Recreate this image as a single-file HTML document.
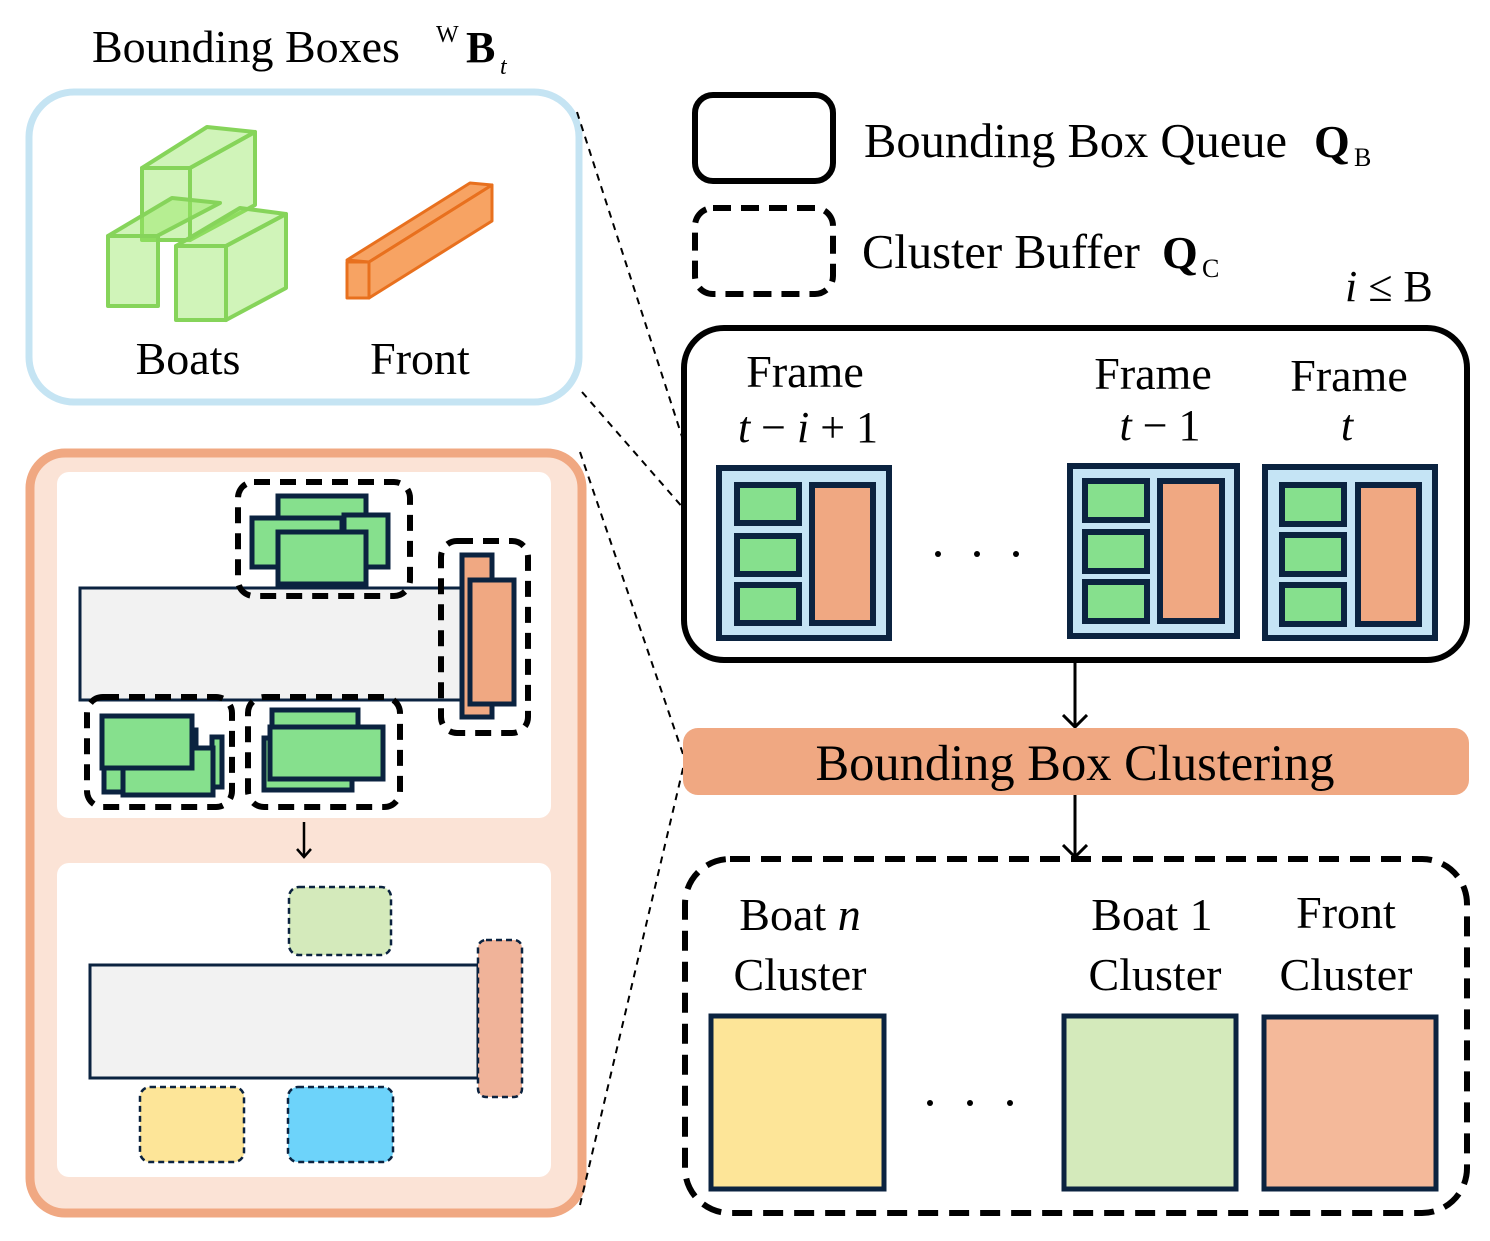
<!DOCTYPE html>
<html><head><meta charset="utf-8"><style>body{margin:0;background:#fff}svg{display:block}text{font-family:"Liberation Serif",serif;fill:#000}</style></head>
<body>
<svg width="1490" height="1241" viewBox="0 0 1490 1241" xmlns="http://www.w3.org/2000/svg">
<defs>
<marker id="ah" markerWidth="16" markerHeight="16" refX="8" refY="8" orient="auto" markerUnits="userSpaceOnUse"><path d="M1,1 L9,8 L1,15" fill="none" stroke="#000" stroke-width="2.5"/></marker>
<marker id="ah2" markerWidth="26" markerHeight="26" refX="12" refY="13" orient="auto" markerUnits="userSpaceOnUse"><path d="M1,1 L13,13 L1,25" fill="none" stroke="#000" stroke-width="3"/></marker>
</defs>

<text x="92" y="62" font-size="46">Bounding Boxes</text>
<text x="436" y="42" font-size="24">W</text>
<text x="466" y="62" font-size="44" font-weight="bold">B</text>
<text x="500" y="74" font-size="24" font-style="italic">t</text>

<rect x="29" y="92" width="550" height="310" rx="45" fill="#fff" stroke="#C5E4F3" stroke-width="7"/>
<g stroke="#86D45A" stroke-width="4" fill="rgba(150,230,100,0.45)" stroke-linejoin="round">
 <polygon points="142,168 207,127 255,132 190,168"/>
 <polygon points="190,168 255,132 255,205 190,240"/>
 <rect x="142" y="168" width="48" height="72"/>
 <polygon points="108,236 172,198 220,203 157,236"/>
 <rect x="108" y="236" width="50" height="70"/>
 <polygon points="176,246 240,208 286,214 226,246"/>
 <polygon points="226,246 286,214 286,288 226,320"/>
 <rect x="176" y="246" width="50" height="74"/>
</g>
<g stroke="#E8701E" stroke-width="3" fill="rgba(245,140,60,0.8)" stroke-linejoin="round">
 <polygon points="347,260 470,183 492,185 369,262"/>
 <polygon points="369,262 492,185 492,221 369,298"/>
 <rect x="347" y="262" width="22" height="36"/>
</g>
<text x="188" y="374" font-size="46" text-anchor="middle">Boats</text>
<text x="420" y="374" font-size="46" text-anchor="middle">Front</text>

<rect x="30" y="453" width="552" height="760" rx="35" fill="#FBE3D6" stroke="#F0A882" stroke-width="9"/>
<rect x="57" y="472" width="494" height="346" rx="12" fill="#fff"/>
<rect x="57" y="863" width="494" height="314" rx="12" fill="#fff"/>

<rect x="80" y="588" width="382" height="112" fill="#F2F2F2" stroke="#0B2340" stroke-width="3"/>
<g stroke="#0B2340" stroke-width="5" fill="#86E08D">
 <rect x="278" y="496" width="88" height="44"/>
 <rect x="344" y="515" width="44" height="52"/>
 <rect x="252" y="518" width="90" height="49"/>
 <rect x="278" y="532" width="88" height="52"/>
 <rect x="212" y="737" width="10" height="50"/>
 <rect x="170" y="730" width="26" height="45"/>
 <rect x="104" y="740" width="28" height="52"/>
 <rect x="123" y="748" width="90" height="47"/>
 <rect x="102" y="716" width="90" height="52"/>
 <rect x="264" y="738" width="88" height="52"/>
 <rect x="272" y="710" width="86" height="20"/>
 <rect x="270" y="727" width="113" height="52"/>
</g>
<g stroke="#0B2340" stroke-width="5" fill="#F0A882">
 <rect x="462" y="555" width="30" height="162"/>
 <rect x="470" y="580" width="44" height="124"/>
</g>
<g fill="none" stroke="#000" stroke-width="6" stroke-dasharray="16,10">
 <rect x="238" y="482" width="172" height="114" rx="16"/>
 <rect x="441" y="541" width="87" height="192" rx="16"/>
 <rect x="87" y="697" width="145" height="110" rx="16"/>
 <rect x="248" y="697" width="152" height="110" rx="16"/>
</g>
<line x1="304" y1="822" x2="304" y2="856" stroke="#000" stroke-width="2.5" marker-end="url(#ah)"/>

<rect x="90" y="965" width="388" height="113" fill="#F2F2F2" stroke="#0B2340" stroke-width="3"/>
<g stroke="#0B2340" stroke-width="2.5" stroke-dasharray="6,4">
 <rect x="289" y="887" width="102" height="68" rx="10" fill="#D4EABB"/>
 <rect x="478" y="940" width="44" height="157" rx="8" fill="#F0B399"/>
 <rect x="140" y="1087" width="104" height="75" rx="10" fill="#FDE598"/>
 <rect x="288" y="1087" width="105" height="75" rx="10" fill="#6DD3FA"/>
</g>

<g stroke="#000" stroke-width="2" stroke-dasharray="7,6" fill="none">
 <line x1="577" y1="112" x2="718" y2="548"/>
 <line x1="582" y1="392" x2="718" y2="548"/>
 <line x1="580" y1="452" x2="685" y2="760"/>
 <line x1="580" y1="1205" x2="685" y2="760"/>
</g>

<rect x="695" y="95" width="138" height="86" rx="18" fill="#fff" stroke="#000" stroke-width="6"/>
<rect x="695" y="208" width="138" height="86" rx="18" fill="#fff" stroke="#000" stroke-width="6" stroke-dasharray="18,10"/>
<text x="864" y="157" font-size="48.5">Bounding Box Queue</text>
<text x="1314" y="157" font-size="46" font-weight="bold">Q</text>
<text x="1354" y="166" font-size="26">B</text>
<text x="862" y="268" font-size="48.5">Cluster Buffer</text>
<text x="1162" y="268" font-size="46" font-weight="bold">Q</text>
<text x="1202" y="277" font-size="26">C</text>
<text x="1345" y="301" font-size="44"><tspan font-style="italic">i</tspan> ≤ B</text>

<rect x="684" y="328" width="783" height="332" rx="40" fill="#fff" stroke="#000" stroke-width="6"/>
<text x="805" y="387" font-size="46" text-anchor="middle">Frame</text>
<text x="808" y="442" font-size="44" text-anchor="middle"><tspan font-style="italic">t</tspan> − <tspan font-style="italic">i</tspan> + 1</text>
<text x="1153" y="389" font-size="46" text-anchor="middle">Frame</text>
<text x="1160" y="440" font-size="44" text-anchor="middle"><tspan font-style="italic">t</tspan> − 1</text>
<text x="1349" y="391" font-size="46" text-anchor="middle">Frame</text>
<text x="1347" y="440" font-size="44" text-anchor="middle" font-style="italic">t</text>
<g stroke="#0B2340" stroke-width="6">
 <rect x="719" y="468" width="170" height="170" fill="#C5E4F5"/>
 <rect x="737" y="485" width="62" height="38" fill="#86E08D"/>
 <rect x="737" y="536" width="62" height="38" fill="#86E08D"/>
 <rect x="737" y="585" width="62" height="38" fill="#86E08D"/>
 <rect x="812" y="485" width="61" height="138" fill="#F0A882"/>
 <rect x="1070" y="466" width="167" height="170" fill="#C5E4F5"/>
 <rect x="1085" y="481" width="62" height="39" fill="#86E08D"/>
 <rect x="1085" y="532" width="62" height="39" fill="#86E08D"/>
 <rect x="1085" y="582" width="62" height="39" fill="#86E08D"/>
 <rect x="1160" y="481" width="62" height="140" fill="#F0A882"/>
 <rect x="1265" y="467" width="170" height="171" fill="#C5E4F5"/>
 <rect x="1282" y="485" width="62" height="39" fill="#86E08D"/>
 <rect x="1282" y="535" width="62" height="39" fill="#86E08D"/>
 <rect x="1282" y="585" width="62" height="39" fill="#86E08D"/>
 <rect x="1358" y="485" width="61" height="139" fill="#F0A882"/>
</g>
<g fill="#000"><circle cx="938" cy="554" r="3"/><circle cx="977" cy="554" r="3"/><circle cx="1016" cy="554" r="3"/></g>

<line x1="1075" y1="663" x2="1075" y2="726" stroke="#000" stroke-width="3" marker-end="url(#ah2)"/>
<rect x="683" y="728" width="786" height="67" rx="15" fill="#F0A882"/>
<text x="1075" y="780" font-size="50.5" text-anchor="middle">Bounding Box Clustering</text>
<line x1="1075" y1="795" x2="1075" y2="856" stroke="#000" stroke-width="3" marker-end="url(#ah2)"/>

<rect x="685" y="859" width="782" height="354" rx="45" fill="#fff" stroke="#000" stroke-width="6" stroke-dasharray="20,11"/>
<text x="800" y="930" font-size="46" text-anchor="middle">Boat <tspan font-style="italic">n</tspan></text>
<text x="800" y="990" font-size="46" text-anchor="middle">Cluster</text>
<text x="1152" y="930" font-size="46" text-anchor="middle">Boat 1</text>
<text x="1155" y="990" font-size="46" text-anchor="middle">Cluster</text>
<text x="1346" y="928" font-size="46" text-anchor="middle">Front</text>
<text x="1346" y="990" font-size="46" text-anchor="middle">Cluster</text>
<g stroke="#0B2340" stroke-width="5">
 <rect x="711" y="1016" width="173" height="173" fill="#FDE598"/>
 <rect x="1064" y="1016" width="172" height="173" fill="#D4EABB"/>
 <rect x="1264" y="1017" width="172" height="172" fill="#F4B99A"/>
</g>
<g fill="#000"><circle cx="930" cy="1103" r="3"/><circle cx="970" cy="1103" r="3"/><circle cx="1010" cy="1103" r="3"/></g>
</svg>
</body></html>
